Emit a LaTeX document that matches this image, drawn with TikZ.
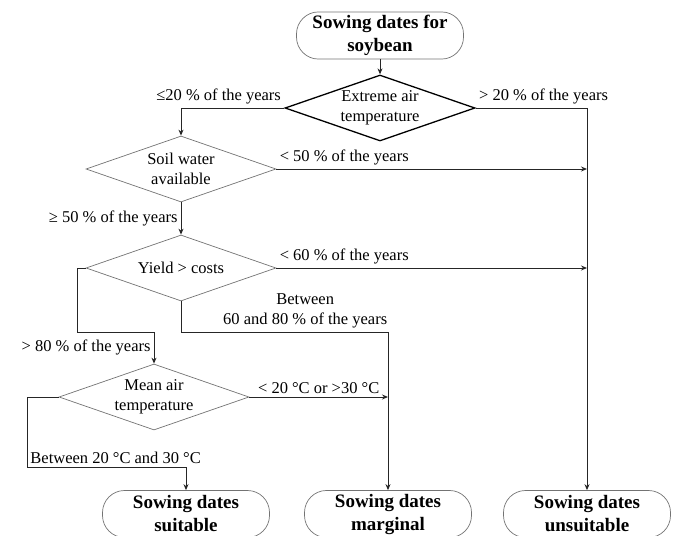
\documentclass[tikz,border=0pt]{standalone}
\usepackage{fontspec}
\setmainfont{Liberation Serif}
\usetikzlibrary{shapes.geometric,arrows.meta,positioning}

\begin{document}
\begin{tikzpicture}[
                          >={Stealth[length=6pt,width=5pt]},
                          on grid,
                          conn/.style={->,line width=0.9pt,draw=black!85},
                          decision/.style={diamond,draw=black!55,line width=0.7pt,inner sep=0pt,
                            shape aspect=2.9,minimum width=190pt,minimum height=66pt,align=center,
                            font=\fontsize{16.5}{20.5}\selectfont},
                          terminal/.style={rectangle,rounded corners=22pt,draw=black!55,line width=0.7pt,
                            minimum width=167pt,minimum height=47pt,align=center,
                            font=\fontsize{19}{23}\selectfont\bfseries},
                          lab/.style={inner sep=3pt,font=\fontsize{16.5}{20.5}\selectfont}]
                      \useasboundingbox (0,0) rectangle (674pt,-535pt);
                      \node[terminal] (sowing) at (380pt,-35.5pt) {Sowing dates for\\soybean};
                      \node[decision,draw=black,line width=1.3pt] (ext_air) [below=72.5pt of sowing] {Extreme air\\temperature};
                      \node[decision] (soil_water) [below left=61pt and 199pt of ext_air] {Soil water\\available};
                      \node[decision] (yield_cost) [below=99pt of soil_water] {Yield > costs};
                      \node[decision] (mean_air) [below left=129pt and 27pt of yield_cost] {Mean air\\temperature};
                      \node[terminal] (dates_suitable) [below right=117pt and 32pt of mean_air] {Sowing dates\\suitable};
                      \node[terminal] (dates_marginal) [right=202pt of dates_suitable] {Sowing dates\\marginal};
                      \node[terminal] (dates_unsuitable) [right=199pt of dates_marginal] {Sowing dates\\unsuitable};
                      \coordinate[below=64pt of yield_cost] (y_bend);
                      \coordinate[left=104pt of yield_cost] (y_left);
                      \coordinate[left=127pt of mean_air] (m_left);
                      \coordinate[below=70pt of mean_air] (m_bend);
                      \draw[conn] (sowing) -- (ext_air);
                      \draw[conn] (ext_air.west) node[lab,anchor=south east] {≤20 \% of the years} -| (soil_water);
                      \draw[conn] (ext_air.east) node[lab,anchor=south west] {> 20 \% of the years} -| (dates_unsuitable);
                      \draw[conn] (soil_water.east) node[lab,anchor=south west] {< 50 \% of the years} -- (soil_water.east -| dates_unsuitable);
                      \draw[conn] (soil_water) -- node[lab,left] {≥ 50 \% of the years} (yield_cost);
                      \draw[conn] (yield_cost.east) node[lab,anchor=south west] {< 60 \% of the years} -- (yield_cost.east -| dates_unsuitable);
                      \draw[conn] (yield_cost) -- (y_bend) -| node[lab,above,pos=0.3,align=center] {Between\\60 and 80 \% of the years} (dates_marginal);
                      \draw[conn] (yield_cost.west) -- (y_left) |- (y_bend -| mean_air) -- node[lab,left] {> 80 \% of the years} (mean_air);
                      \draw[conn] (mean_air.east) -- node[lab,above] {< 20 °C or >30 °C} (mean_air.east -| dates_marginal);
                      \draw[conn] (mean_air.west) -- (m_left) |- node[lab,pos=0.5,anchor=south west] {Between 20 °C and 30 °C} (m_bend -| dates_suitable) -- (dates_suitable);
                  \end{tikzpicture}
\end{document}
